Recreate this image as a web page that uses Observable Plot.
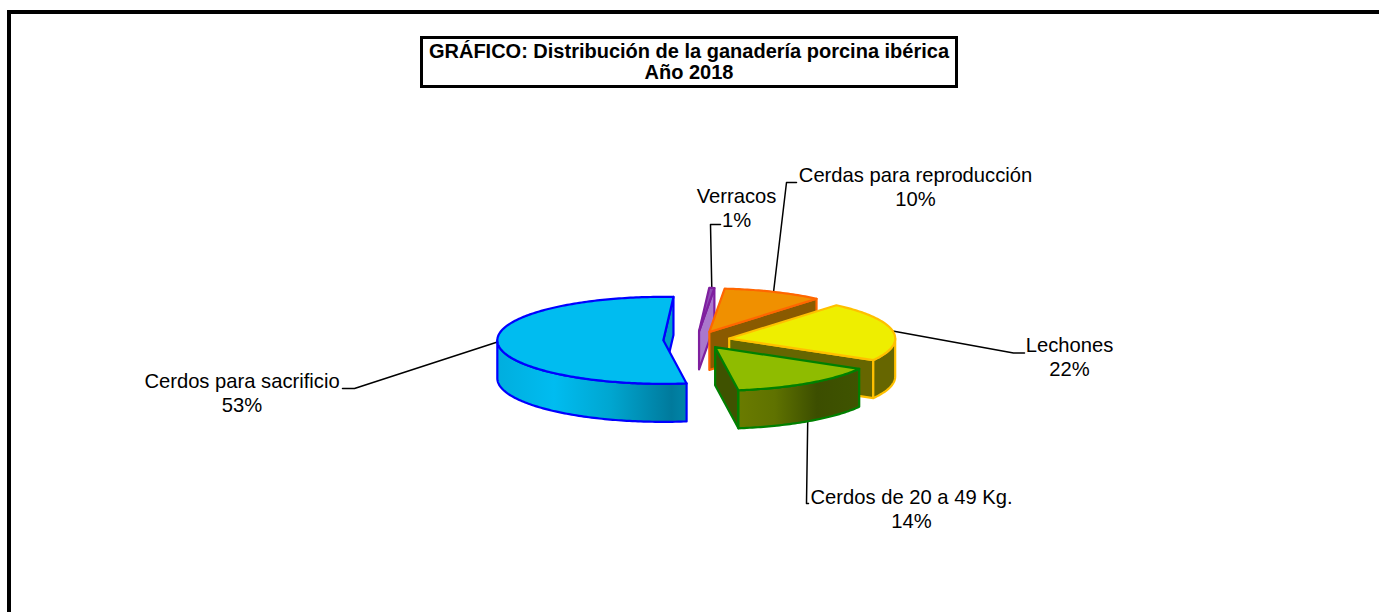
<!DOCTYPE html>
<html lang="es">
<head>
<meta charset="utf-8">
<script src="https://cdn.jsdelivr.net/npm/d3@7"></script>
<script src="https://cdn.jsdelivr.net/npm/@observablehq/plot@0.6"></script>
<style>
html,body{margin:0;padding:0;background:#fff;overflow:hidden}
#page{position:relative;width:1379px;height:612px;overflow:hidden;font-family:"Liberation Sans",Arial,sans-serif}
#frame{position:absolute;left:7px;top:10px;width:1400px;height:700px;border-top:4px solid #000;border-left:4px solid #000;pointer-events:none}
#title{position:absolute;left:420px;top:36px;width:532px;height:44.5px;padding-top:1.5px;border:3px solid #000;background:#fff;text-align:center;font-weight:bold;font-size:20px;line-height:21px;color:#000;white-space:nowrap}
</style>
</head>
<body>
<div id="page">
<div id="chart"></div>
<div id="frame"></div>
<div id="title">GRÁFICO: Distribución de la ganadería porcina ibérica<br>Año 2018</div>
</div>
<script>
// Data (share of the head count, %)
const categories = ["Verracos", "Cerdas para reproducción", "Lechones", "Cerdos de 20 a 49 Kg.", "Cerdos para sacrificio"];
const shares = [0.5, 9.7, 22.1, 14.49, 53.21];

// Colours, per slice
const topColors = ["#8F4DB5", "#F09000", "#EEEE00", "#8FBC00", "#00BCF0"];
const edgeColors = ["#7F1F9F", "#FF6600", "#FFC000", "#008000", "#0000FF"];
const cutColors = ["#AA77CC", "#8A5A00", "#666600", "#3F5200", "#00A0C8"];
const wallColors = ["#AA77CC", "#8A5A00", "#666600", "url(#wallGreen)", "url(#wallBlue)"];

// Pie model, in units of the pie radius
const W = 1379, H = 612, radiusPx = 166, centerPx = [696, 339.5];
const startAngle = 3.5, explode = 0.2, tilt = 0.262, depth = 0.229;
const rad = Math.PI / 180;

// Label placement in page pixels, converted to pie units below
const layout = [
  {cx: 736, base: 226, elbow: [720, 224], knee: [710, 224]},
  {cx: 915, base: 205.5, elbow: [796, 182], knee: [786, 182]},
  {cx: 1069, base: 375, elbow: [1024, 352.5], knee: [1013, 352.5]},
  {cx: 911, base: 527.5, elbow: [808, 503], knee: [806, 503]},
  {cx: 241.5, base: 411, elbow: [342, 388], knee: [354, 388]}
];
const ux = px => (px - centerPx[0]) / radiusPx;
const uy = py => (centerPx[1] - py) / radiusPx;

let acc = startAngle;
const slices = shares.map((v, i) => {
  const a0 = acc, a1 = acc + v * 3.6;
  acc = a1;
  const mid = (a0 + a1) / 2;
  const ox = explode * Math.sin(mid * rad), oy = explode * Math.cos(mid * rad) * tilt;
  return {i, a0, a1, mid, ox, oy};
});
const rim = (s, a, dz = 0) => ({x: s.ox + Math.sin(a * rad), y: s.oy + Math.cos(a * rad) * tilt - dz});
const apex = (s, dz = 0) => ({x: s.ox, y: s.oy - dz});
const sweep = (s, a, b, dz = 0) => {
  const n = Math.max(2, Math.ceil(Math.abs(b - a)));
  return d3.range(n + 1).map(k => rim(s, a + (b - a) * k / n, dz));
};
const close = pts => [...pts, pts[0]];
const topFace = s => close([apex(s), ...sweep(s, s.a0, s.a1)]);
const cutFace = s => close([apex(s), rim(s, s.a1), rim(s, s.a1, depth), apex(s, depth)]);
const wallFace = s => {
  const a = Math.max(s.a0, 90), b = Math.min(s.a1, 270);
  return b > a ? close([...sweep(s, a, b), ...sweep(s, b, a, depth)]) : null;
};

const gradient = (id, stops) => () => {
  const defs = d3.create("svg:defs");
  const g = defs.append("linearGradient").attr("id", id).attr("x1", 0).attr("x2", 1).attr("y1", 0).attr("y2", 0);
  for (const [o, c] of stops) g.append("stop").attr("offset", o).attr("stop-color", c);
  return defs.node();
};
const face = (pts, fill, stroke) => Plot.line(pts, {x: "x", y: "y", fill, stroke, strokeWidth: 2.2, curve: "linear", strokeLinejoin: "round"});

const drawOrder = [4, 0, 1, 2, 3];
const sliceMarks = drawOrder.flatMap(i => {
  const s = slices[i], wall = wallFace(s), marks = [];
  marks.push(face(cutFace(s), cutColors[i], edgeColors[i]));
  if (wall) marks.push(face(wall, wallColors[i], edgeColors[i]));
  marks.push(face(topFace(s), topColors[i], edgeColors[i]));
  return marks;
});

const leaders = slices.map(s => {
  const l = layout[s.i];
  return [rim(s, s.mid), {x: ux(l.knee[0]), y: uy(l.knee[1])}, {x: ux(l.elbow[0]), y: uy(l.elbow[1])}];
});
const labels = slices.map(s => ({
  text: `${categories[s.i]}\n${Math.round(shares[s.i])}%`,
  x: ux(layout[s.i].cx),
  y: uy(layout[s.i].base)
}));

const chart = Plot.plot({
  width: W, height: H,
  margin: 0,
  style: {background: "#fff", fontFamily: '"Liberation Sans",Arial,sans-serif'},
  x: {axis: null, domain: [ux(0), ux(W)], range: [0, W]},
  y: {axis: null, domain: [uy(H), uy(0)], range: [H, 0]},
  marks: [
    gradient("wallBlue", [[0, "#00AEDE"], [0.3, "#00BCF0"], [0.6, "#00A6D0"], [0.92, "#007A9C"], [1, "#0085A8"]]),
    gradient("wallGreen", [[0, "#6A7B00"], [0.3, "#5F7200"], [0.65, "#3C4E00"], [1, "#3F5400"]]),
    ...leaders.map(pts => Plot.line(pts, {x: "x", y: "y", stroke: "#000", strokeWidth: 1.5, curve: "linear"})),
    ...sliceMarks,
    Plot.text(labels, {x: "x", y: "y", text: "text", fontSize: 20.2, lineHeight: 1.188, lineAnchor: "bottom", textAnchor: "middle", fill: "#000"})
  ]
});
document.getElementById("chart").append(chart);
</script>
</body>
</html>
